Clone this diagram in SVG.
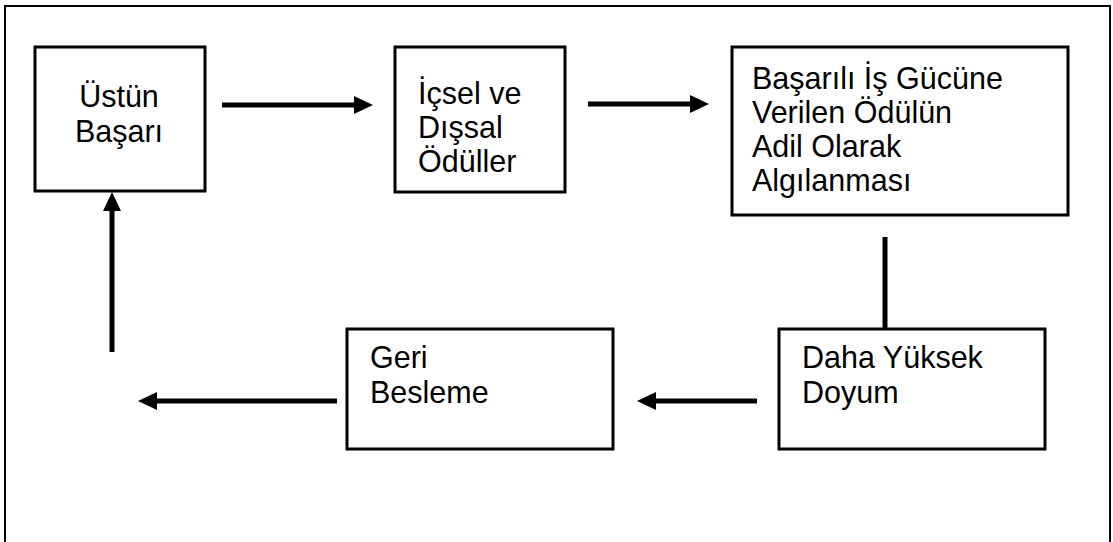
<svg xmlns="http://www.w3.org/2000/svg" width="1113" height="542" viewBox="0 0 1113 542">
<defs>
<style>
.box{fill:#fff;stroke:#000;stroke-width:3}
.t{font-family:"Liberation Sans",Arial,sans-serif;font-size:30.5px;fill:#000}
.c{fill:none;stroke:#000;stroke-width:5}
</style>
<marker id="ah" markerUnits="userSpaceOnUse" markerWidth="22" markerHeight="20" refX="0" refY="9" orient="auto">
<path d="M0,0 L19,9 L0,18 Z" fill="#000"/>
</marker>
</defs>
<rect width="1113" height="542" fill="#fff"/>
<path d="M5,550 V6 H1110 V550" fill="none" stroke="#000" stroke-width="2"/>
<g id="n1">
<rect class="box" x="35" y="47" width="170" height="144"/>
<text class="t" x="119" y="107" text-anchor="middle">Üstün</text>
<text class="t" x="119" y="142" text-anchor="middle">Başarı</text>
</g>
<g id="n2">
<rect class="box" x="395" y="47" width="170" height="145"/>
<text class="t" x="418" y="104">İçsel ve</text>
<text class="t" x="418" y="138">Dışsal</text>
<text class="t" x="418" y="172">Ödüller</text>
</g>
<g id="n3">
<rect class="box" x="732" y="47" width="336" height="168"/>
<text class="t" x="752" y="89">Başarılı İş Gücüne</text>
<text class="t" x="752" y="123">Verilen Ödülün</text>
<text class="t" x="752" y="157">Adil Olarak</text>
<text class="t" x="752" y="191">Algılanması</text>
</g>
<g id="n4">
<rect class="box" x="347" y="329" width="266" height="120"/>
<text class="t" x="370" y="368">Geri</text>
<text class="t" x="370" y="403">Besleme</text>
</g>
<g id="n5">
<rect class="box" x="779" y="329" width="266" height="120"/>
<text class="t" x="802" y="368">Daha Yüksek</text>
<text class="t" x="802" y="403">Doyum</text>
</g>
<g id="connectors">
<line class="c" x1="222" y1="105" x2="354" y2="105" marker-end="url(#ah)"/>
<line class="c" x1="588" y1="104" x2="690" y2="104" marker-end="url(#ah)"/>
<line class="c" x1="885" y1="237" x2="885" y2="328"/>
<line class="c" x1="757" y1="401" x2="656" y2="401" marker-end="url(#ah)"/>
<line class="c" x1="337" y1="401" x2="157" y2="401" marker-end="url(#ah)"/>
<line class="c" x1="112" y1="352" x2="112" y2="211" marker-end="url(#ah)"/>
</g>
</svg>
